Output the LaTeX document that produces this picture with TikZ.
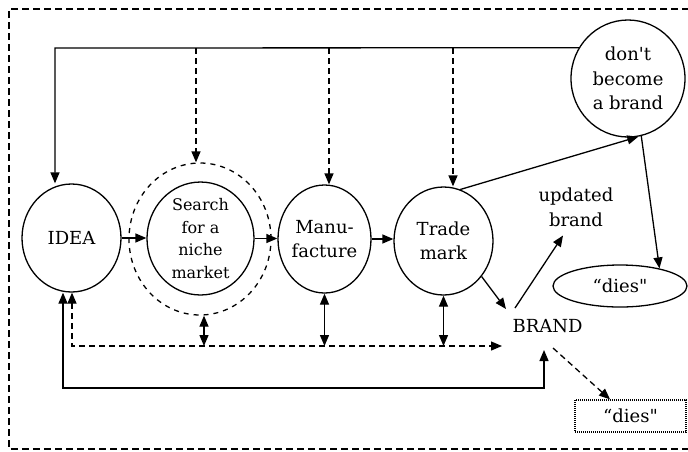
\documentclass[tikz,border=0pt]{standalone}
\usepackage{fontspec}
\setmainfont{DejaVu Serif}[Ligatures=TeXOff]
\usetikzlibrary{shapes.geometric,arrows.meta,calc}
\tikzset{
  ov/.style={ellipse, draw, line width=1.3pt, inner sep=0pt, align=center},
  txt/.style={inner sep=0pt, align=center},
  tip/.style={-{Triangle[length=11pt,width=9pt]}},
  twotip/.style={{Triangle[length=11pt,width=9pt]}-{Triangle[length=11pt,width=9pt]}},
  dd/.style={dash pattern=on 6pt off 4pt},
  ln/.style={line width=1.3pt},
  small/.style={font=\fontsize{16}{22.5}\selectfont}
}
\begin{document}
\begin{tikzpicture}[x=1pt,y=-1pt, font=\fontsize{18}{24.5}\selectfont]
\useasboundingbox (0,0) rectangle (688,451);
% outer frame
\draw[ln, dash pattern=on 7pt off 4pt] (700,9) -- (9,9) -- (9,449) -- (700,449);

% nodes
\node[ov, minimum width=99pt, minimum height=108pt] (idea) at (71.5,238) {IDEA};
\node[ov, dash pattern=on 5pt off 5pt, minimum width=142pt, minimum height=152pt] (ring) at (200,239) {};
\node[ov, small, minimum width=107pt, minimum height=107pt] (search) at (200.5,238.5) {Search\\for a\\niche\\market};
\node[ov, minimum width=93pt, minimum height=108pt] (manu) at (324.5,239) {Manu-\\facture};
\node[ov, minimum width=99pt, minimum height=108pt] (tm) at (443.5,241) {Trade\\mark};
\node[ov, minimum width=114pt, minimum height=117pt] (dont) at (628,78.5) {don't\\become\\a brand};
\node[ov, minimum width=134pt, minimum height=42pt] (dies1) at (620,286) {“dies"};
\node[draw, line width=1.3pt, dash pattern=on 1pt off 1pt, minimum width=111pt, minimum height=32pt, inner sep=0pt] (dies2) at (630.5,416) {“dies"};
\node[txt] (brand) at (547.5,326) {BRAND};
\node[txt] (upd) at (576,207.5) {updated\\brand};

% top feedback line
\coordinate (tl) at (55,48);
\draw[ln, tip] (dont.148) -- (tl) -- (tl |- idea.north);
\coordinate (d1) at (196,48);
\coordinate (d2) at (329,48);
\coordinate (d3) at (453,48);
\draw[ln, dd, tip] (d1) -- (d1 |- ring.north);
\draw[ln, dd, tip] (d2) -- (d2 |- manu.north);
\draw[ln, dd, tip] (d3) -- (d3 |- tm.north);

% main chain
\draw[ln, tip] (idea.east) -- (idea.east -| search.west);
\draw[ln, tip] (search.east) -- (search.east -| manu.west);
\draw[ln, tip] (manu.east) -- (manu.east -| tm.west);
\draw[ln, tip] (tm.72) -- (dont.-80);
\draw[ln, tip] (dont.-77) -- (dies1.24);
\draw[ln, tip] (tm.-43) -- ($(brand)+(-41.5,-17)$);
\draw[ln, tip] ($(brand)+(-32.5,-18)$) -- ($(upd)+(-13,28)$);
\draw[ln, dd, tip] ($(brand)+(5.5,22)$) -- ($(dies2.north)+(-20.5,0)$);

% bottom loops
\coordinate (lb) at (63,388);
\path ($(brand)+(-3.5,24)$) coordinate (be);
\draw[ln, twotip] (lb |- idea.south) -- (lb) -- (lb -| be) -- (be);
\coordinate (db) at (72,346);
\draw[ln, dd, twotip] (db |- idea.south) -- (db) -- ($(brand)+(-45.5,20)$);

% vertical double arrows
\path ($(ring.south)+(4,0)$) coordinate (v1);
\draw[ln, twotip] (v1) -- (v1 |- db);
\draw[ln, twotip] (manu.south) -- (manu.south |- db);
\draw[ln, twotip] (tm.south) -- (tm.south |- db);
\end{tikzpicture}
\end{document}
